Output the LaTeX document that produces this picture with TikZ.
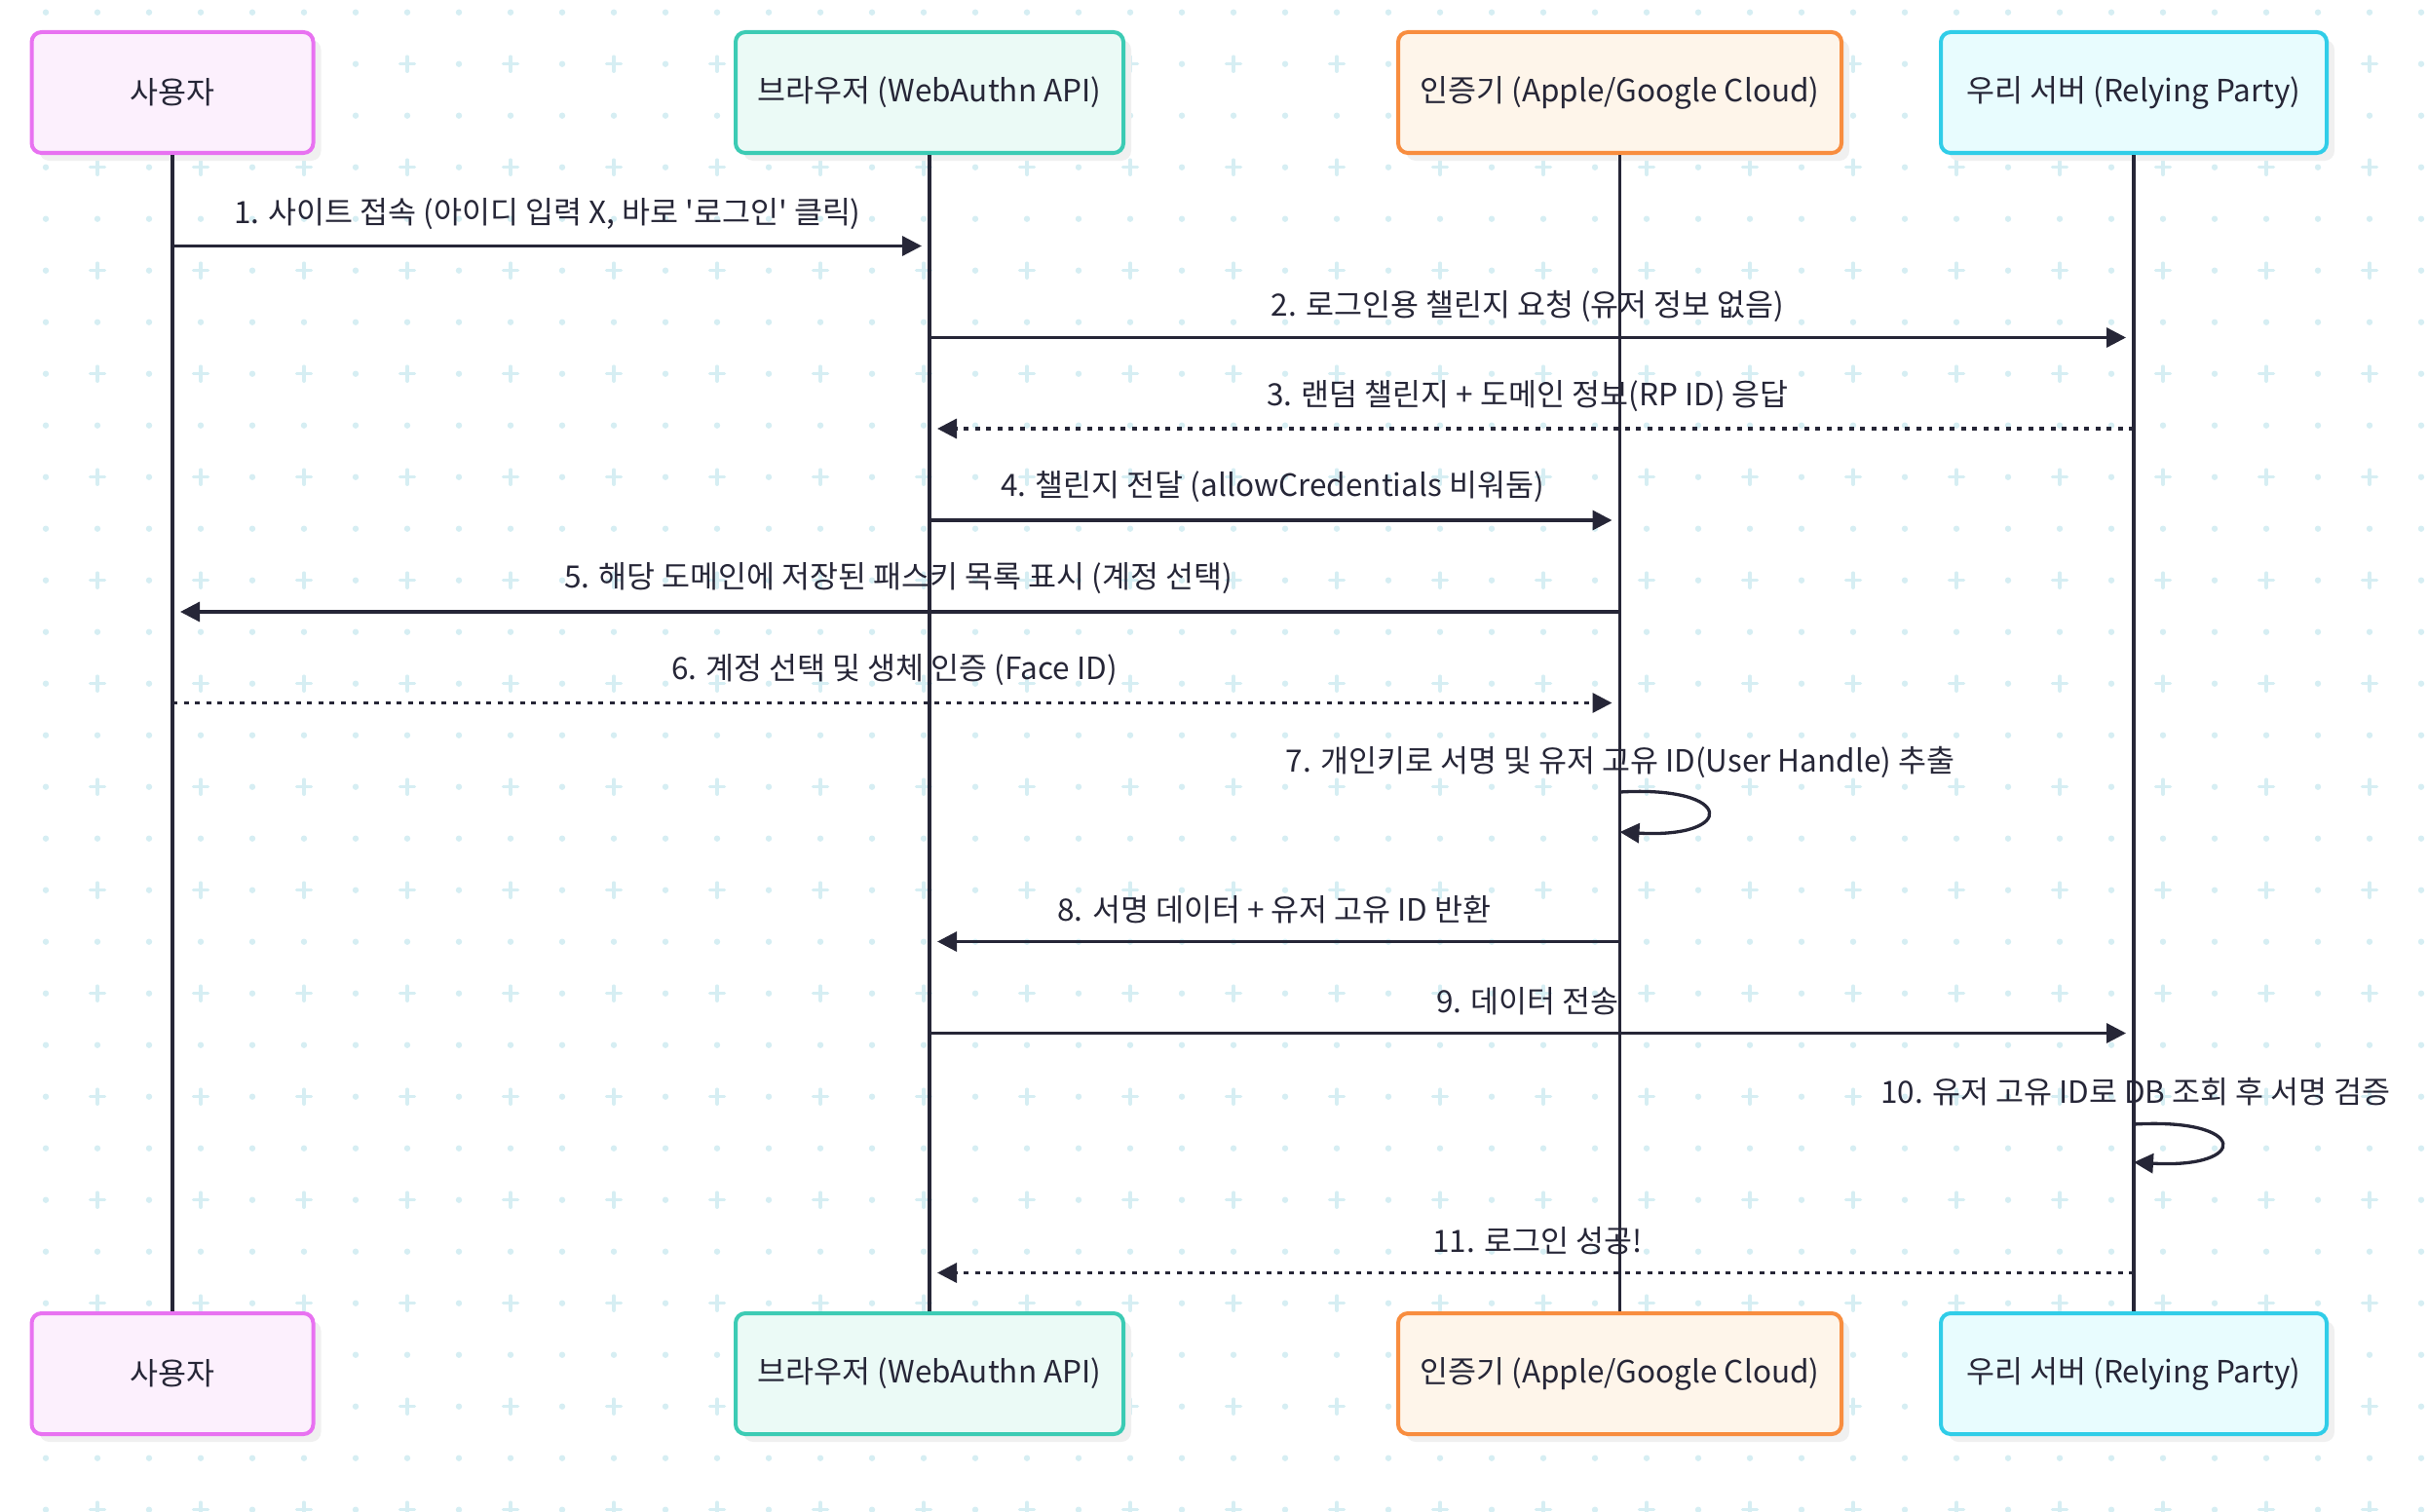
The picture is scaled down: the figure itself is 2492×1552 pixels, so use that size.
\documentclass[tikz,border=0pt]{standalone}
\usepackage{fontspec}
\setmainfont{Noto Sans CJK KR}[Ligatures=TeXOff]
\usetikzlibrary{arrows.meta,shadows}
\definecolor{ink}{HTML}{262637}
\definecolor{dotc}{HTML}{D6EEF3}
\definecolor{userc}{HTML}{E872F1}
\definecolor{userf}{HTML}{FCF0FD}
\definecolor{webc}{HTML}{3CCBB4}
\definecolor{webf}{HTML}{EBFAF6}
\definecolor{authc}{HTML}{F88D3F}
\definecolor{authf}{HTML}{FEF5EA}
\definecolor{rpc}{HTML}{30CDE8}
\definecolor{rpf}{HTML}{E8FCFE}
\begin{document}
\begin{tikzpicture}[x=1pt,y=-1pt,font=\fontsize{31.5}{38}\selectfont,text=ink,
  actor/.style={draw,rounded corners=10pt,line width=4pt,minimum width=#1,minimum height=124pt,inner sep=0pt,
    general shadow={fill=black!6,shadow xshift=8pt,shadow yshift=-8pt}},
  life/.style={ink,line width=3.3pt},
  msg/.style={ink,line width=3.3pt,-{Triangle[length=20pt,width=20pt]},shorten >=8pt},
  reply/.style={msg,dash pattern=on 5pt off 6.5pt},
  gridplus/.style={dotc,line width=3.5pt,line cap=round}]
\useasboundingbox (0,0) rectangle (2492,1552);

% background pattern
\foreach \i in {0,...,46}{
  \foreach \j in {0,...,29}{
    \pgfmathtruncatemacro\isplus{mod(\i,2)*mod(\j,2)}
    \ifnum\isplus=1
      \draw[gridplus] (47+53*\i-7.5,12.7+53*\j) -- ++(15,0) (47+53*\i,12.7+53*\j-7.5) -- ++(0,15);
    \else
      \fill[dotc] (47+53*\i,12.7+53*\j) circle (3.2pt);
    \fi
  }
}

% participants
\node[actor=289pt,draw=userc,fill=userf] (user) at (177,95) {사용자};
\node[actor=398pt,draw=webc,fill=webf] (web) at (954,95) {브라우저 (WebAuthn API)};
\node[actor=455pt,draw=authc,fill=authf] (auth) at (1662.5,95) {인증기 (Apple/Google Cloud)};
\node[actor=396pt,draw=rpc,fill=rpf] (rp) at (2190,95) {우리 서버 (Relying Party)};

\node[actor=289pt,draw=userc,fill=userf] (userB) at (177,1410) {사용자};
\node[actor=398pt,draw=webc,fill=webf] (webB) at (954,1410) {브라우저 (WebAuthn API)};
\node[actor=455pt,draw=authc,fill=authf] (authB) at (1662.5,1410) {인증기 (Apple/Google Cloud)};
\node[actor=396pt,draw=rpc,fill=rpf] (rpB) at (2190,1410) {우리 서버 (Relying Party)};

\draw[life] (user) -- (userB);
\draw[life] (web) -- (webB);
\draw[life] (auth) -- (authB);
\draw[life] (rp) -- (rpB);

% messages
\draw[msg] (user |- 0,252.5) -- (web |- 0,252.5);
\node (t1) at (562,220) {1. 사이트 접속 (아이디 입력 X, 바로 '로그인' 클릭)};

\draw[msg] (web |- 0,346.5) -- (rp |- 0,346.5);
\node (t2) at (1568,314) {2. 로그인용 챌린지 요청 (유저 정보 없음)};

\draw[reply] (rp |- 0,440) -- (web |- 0,440);
\node (t3) at (1568,407) {3. 랜덤 챌린지 + 도메인 정보(RP ID) 응답};

\draw[msg] (web |- 0,534) -- (auth |- 0,534);
\node (t4) at (1306,500) {4. 챌린지 전달 (allowCredentials 비워둠)};

\draw[msg] (auth |- 0,628) -- (user |- 0,628);
\node (t5) at (922,594) {5. 해당 도메인에 저장된 패스키 목록 표시 (계정 선택)};

\draw[reply] (user |- 0,721.5) -- (auth |- 0,721.5);
\node (t6) at (918,688) {6. 계정 선택 및 생체 인증 (Face ID)};

\coordinate (s7a) at (auth |- 0,813);
\coordinate (s7b) at (auth |- 0,854);
\draw[msg,shorten >=0pt] (s7a) .. controls (1782,806) and (1782,861) .. (s7b);
\node (t7) at (1663,782) {7. 개인키로 서명 및 유저 고유 ID(User Handle) 추출};

\draw[msg] (auth |- 0,966.5) -- (web |- 0,966.5);
\node (t8) at (1308,934) {8. 서명 데이터 + 유저 고유 ID 반환};

\draw[msg] (web |- 0,1060.5) -- (rp |- 0,1060.5);
\node (t9) at (1568,1028) {9. 데이터 전송};

\coordinate (s10a) at (rp |- 0,1154);
\coordinate (s10b) at (rp |- 0,1193);
\draw[msg,shorten >=0pt] (s10a) .. controls (2309,1147) and (2309,1200) .. (s10b);
\node (t10) at (2192,1121) {10. 유저 고유 ID로 DB 조회 후 서명 검증};

\draw[reply] (rp |- 0,1306.5) -- (web |- 0,1306.5);
\node (t11) at (1578,1274) {11. 로그인 성공!};
\end{tikzpicture}
\end{document}
